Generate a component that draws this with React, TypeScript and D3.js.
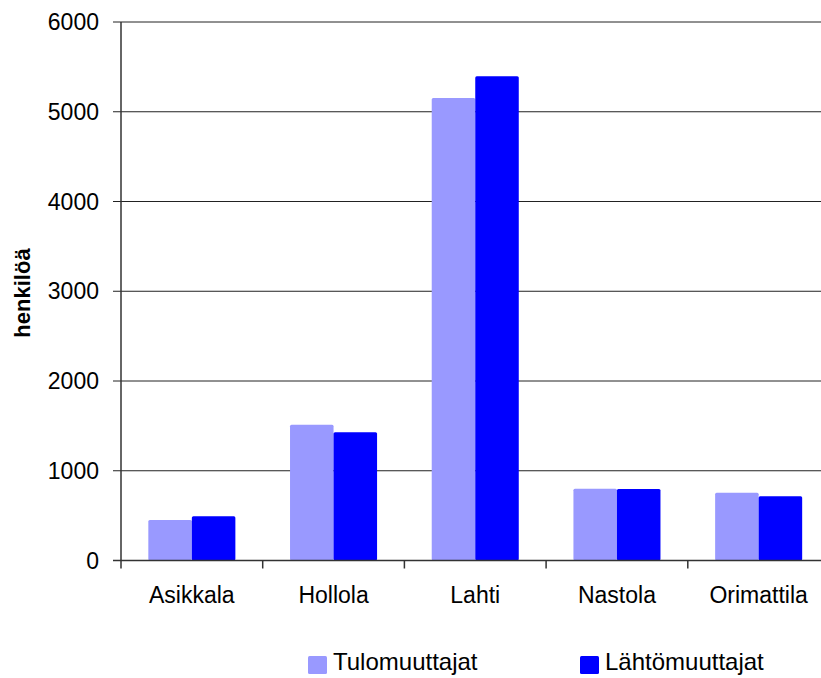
import React from "react";
import * as d3 from "d3";

const categories = ["Asikkala", "Hollola", "Lahti", "Nastola", "Orimattila"];
const seriesNames = ["Tulomuuttajat", "Lähtömuuttajat"];
const tulomuuttajat = [451, 1512, 5154, 800, 755];
const lahtomuuttajat = [492, 1428, 5395, 796, 715];
const yTicks = [0, 1000, 2000, 3000, 4000, 5000, 6000];
const colors = ["#9999ff", "#0000ff"];

const width = 821;
const height = 678;
const left = 121;
const top = 22;
const bottom = 560.5;
const catStep = 141.7;
const font = "Arial, 'Liberation Sans', sans-serif";

export default function App() {
  const x = d3
    .scaleBand<string>()
    .domain(categories)
    .range([left, left + catStep * categories.length])
    .padding(0);

  const xInner = d3
    .scaleBand<string>()
    .domain(seriesNames)
    .range([0, x.bandwidth()])
    .paddingInner(0)
    .paddingOuter(0.628);

  const y = d3.scaleLinear().domain([0, 6000]).range([bottom, top]);

  const series = [tulomuuttajat, lahtomuuttajat];

  return (
    <svg
      width={width}
      height={height}
      style={{ position: "absolute", left: 0, top: 0, background: "#fff" }}
      fontFamily={font}
    >
      {/* gridlines + y tick labels */}
      {yTicks.map((t) => (
        <g key={t}>
          <line
            x1={left - 8}
            x2={width}
            y1={y(t)}
            y2={y(t)}
            stroke="#222"
            strokeWidth={1}
          />
          <text
            x={99}
            y={y(t)}
            textAnchor="end"
            dominantBaseline="central"
            fontSize={23}
            fill="#000"
          >
            {t}
          </text>
        </g>
      ))}

      {/* bars */}
      {categories.map((c, i) => (
        <g key={c} transform={`translate(${x(c)},0)`}>
          {seriesNames.map((s, j) => (
            <rect
              key={s}
              x={xInner(s)}
              y={y(series[j][i])}
              width={xInner.bandwidth()}
              height={y(0) - y(series[j][i])}
              fill={colors[j]}
              rx={1.5}
            />
          ))}
        </g>
      ))}

      {/* axes */}
      <line x1={left} x2={left} y1={top} y2={bottom + 8} stroke="#333" strokeWidth={1.5} />
      <line x1={left - 8} x2={width} y1={bottom} y2={bottom} stroke="#333" strokeWidth={1.5} />
      {categories.map((c) => (
        <line
          key={`t-${c}`}
          x1={x(c)! + x.bandwidth()}
          x2={x(c)! + x.bandwidth()}
          y1={bottom}
          y2={bottom + 8}
          stroke="#333"
          strokeWidth={1.5}
        />
      ))}

      {/* category labels */}
      {categories.map((c) => (
        <text
          key={`l-${c}`}
          x={x(c)! + x.bandwidth() / 2}
          y={603}
          textAnchor="middle"
          fontSize={23}
          fill="#000"
        >
          {c}
        </text>
      ))}

      {/* y title */}
      <text
        transform="translate(30,293) rotate(-90)"
        textAnchor="middle"
        fontSize={22}
        fontWeight="bold"
        fill="#000"
      >
        henkilöä
      </text>

      {/* legend */}
      {seriesNames.map((s, j) => {
        const lx = j === 0 ? 308 : 580;
        return (
          <g key={`lg-${s}`}>
            <rect x={lx} y={656} width={19} height={18} fill={colors[j]} rx={1.5} />
            <text x={lx + 25} y={670} fontSize={24} fill="#000">
              {s}
            </text>
          </g>
        );
      })}
    </svg>
  );
}
